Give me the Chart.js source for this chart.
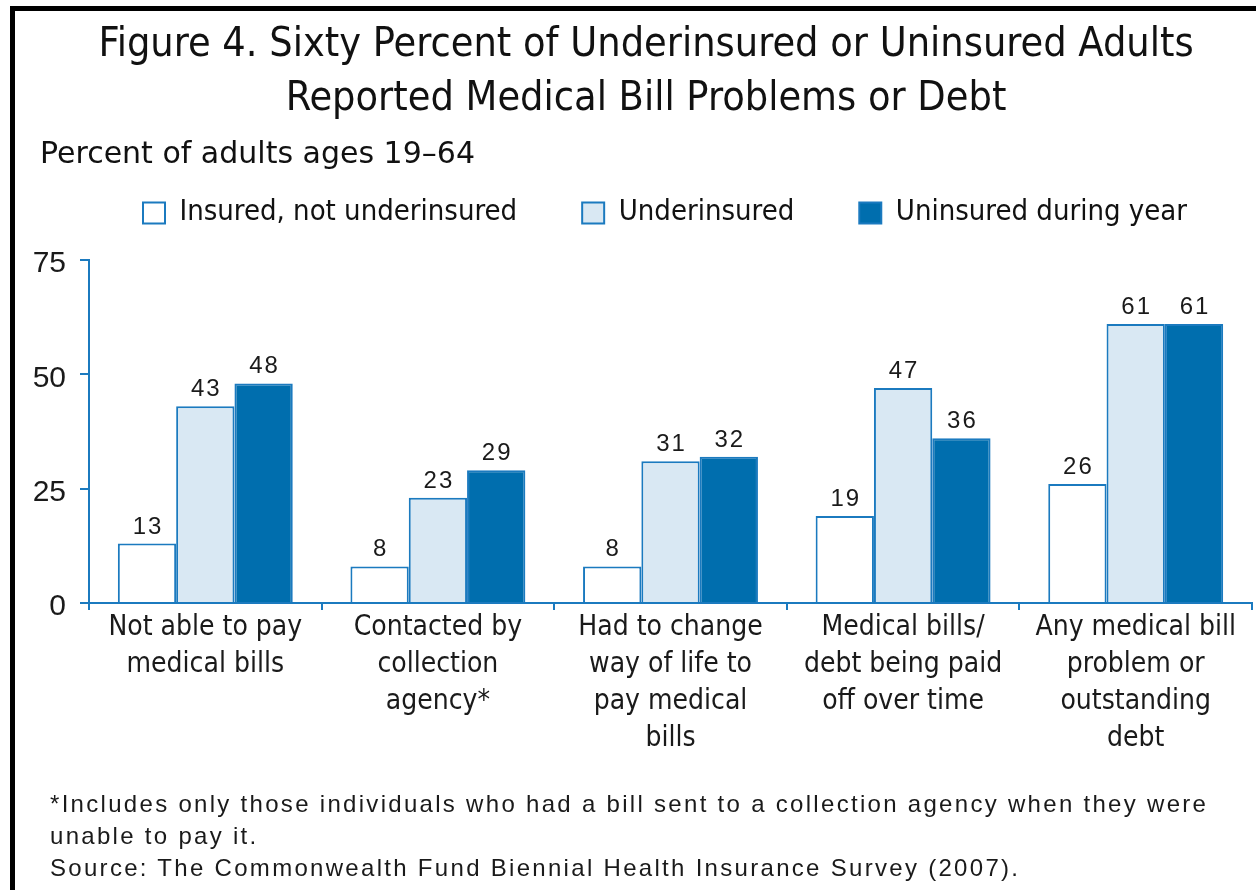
<!DOCTYPE html>
<html>
<head>
<meta charset="utf-8">
<title>Figure 4</title>
<script src="https://cdn.jsdelivr.net/npm/chart.js@4.4.1/dist/chart.umd.min.js"></script>
<style>
  html, body { margin: 0; padding: 0; background: #fff; }
  #wrap { position: relative; width: 1256px; height: 890px; overflow: hidden; }
  #frame { position: absolute; left: 10px; top: 6px; width: 1300px; height: 1000px;
           border-left: 5px solid #000; border-top: 5px solid #000; }
  #chart { position: absolute; left: 0; top: 0; }
  #notes { position: absolute; left: 50px; top: 788px; color: #1a1a1a;
           font: 24px 'Liberation Sans', Arial, sans-serif; letter-spacing: 2.3px;
           line-height: 32px; white-space: nowrap; }
</style>
</head>
<body>
<div id="wrap">
  <div id="frame"></div>
  <canvas id="chart" width="1256" height="890"></canvas>
  <div id="notes">
    <div>*Includes only those individuals who had a bill sent to a collection agency when they were</div>
    <div>unable to pay it.</div>
    <div>Source: The Commonwealth Fund Biennial Health Insurance Survey (2007).</div>
  </div>
</div>
<script>
  // ---- data ----
  var categories = [
    ['Not able to pay', 'medical bills'],
    ['Contacted by', 'collection', 'agency*'],
    ['Had to change', 'way of life to', 'pay medical', 'bills'],
    ['Medical bills/', 'debt being paid', 'off over time'],
    ['Any medical bill', 'problem or', 'outstanding', 'debt']
  ];
  var seriesNames = ['Insured, not underinsured', 'Underinsured', 'Uninsured during year'];
  var insured = [13, 8, 8, 19, 26];
  var underinsured = [43, 23, 31, 47, 61];
  var uninsured = [48, 29, 32, 36, 61];
  var yTicks = [0, 25, 50, 75];

  // ---- styles ----
  var NARROW = "'DejaVu Sans Condensed', 'Liberation Sans Narrow', sans-serif";
  var WIDE = "'DejaVu Sans', 'Liberation Sans', sans-serif";
  var PLAIN = "'Liberation Sans', Arial, sans-serif";
  var BLUE = '#1b7abf';
  var DARK = '#006eae';
  var LIGHT = '#d9e8f3';
  var INK = '#1a1a1a';

  // numbers over each bar
  var valueLabels = {
    id: 'valueLabels',
    afterDatasetsDraw: function (chart) {
      var ctx = chart.ctx;
      ctx.save();
      ctx.font = '24px ' + PLAIN;
      ctx.letterSpacing = '2px';
      ctx.fillStyle = INK;
      ctx.textAlign = 'center';
      ctx.textBaseline = 'alphabetic';
      chart.data.datasets.forEach(function (ds, i) {
        chart.getDatasetMeta(i).data.forEach(function (bar, j) {
          ctx.fillText(String(ds.data[j]), bar.x + 1, bar.y - 10);
        });
      });
      ctx.restore();
    }
  };

  // y tick labels hang left of the padded area, so widen the axis clip box after layout
  var looseYLabels = {
    id: 'looseYLabels',
    afterLayout: function (chart) { chart.scales.y.left = 0; }
  };

  function barSet(label, data, fill) {
    return {
      label: label,
      data: data,
      backgroundColor: fill,
      borderColor: BLUE,
      borderWidth: 2,
      categoryPercentage: 0.752,
      barPercentage: 1.0
    };
  }

  new Chart(document.getElementById('chart').getContext('2d'), {
    type: 'bar',
    data: {
      labels: categories,
      datasets: [
        barSet(seriesNames[0], insured, '#ffffff'),
        barSet(seriesNames[1], underinsured, LIGHT),
        barSet(seriesNames[2], uninsured, DARK)
      ]
    },
    plugins: [valueLabels, looseYLabels],
    options: {
      responsive: false,
      animation: false,
      devicePixelRatio: 1,
      layout: { padding: { left: 40, right: 4, top: 0, bottom: 122 } },
      scales: {
        x: {
          grid: { display: true, drawOnChartArea: false, drawTicks: true, tickLength: 7, color: BLUE, lineWidth: 2, offset: true },
          border: { display: true, color: BLUE, width: 2 },
          ticks: { color: INK, padding: -0.5, maxRotation: 0, autoSkip: false,
                   font: { family: NARROW, size: 28, lineHeight: 1.32 } },
          afterFit: function (scale) { scale.height = 165; }
        },
        y: {
          min: 0, max: 75,
          afterBuildTicks: function (scale) { scale.ticks = yTicks.map(function (v) { return { value: v }; }); },
          grid: { display: true, drawOnChartArea: false, drawTicks: true, tickLength: 9, color: BLUE, lineWidth: 2 },
          border: { display: true, color: BLUE, width: 2 },
          ticks: { color: INK, padding: 14, labelOffset: 4, font: { family: PLAIN, size: 30 } },
          afterFit: function (scale) { scale.width = 49; }
        }
      },
      plugins: {
        title: {
          display: true,
          text: ['Figure 4. Sixty Percent of Underinsured or Uninsured Adults', 'Reported Medical Bill Problems or Debt'],
          color: '#111',
          font: { family: NARROW, size: 41, weight: 'normal', lineHeight: 1.33 },
          padding: { top: 18, bottom: 6.4 }
        },
        // legend follows the title; its label padding is also the gap between items
        legend: {
          display: true,
          position: 'top',
          align: 'end',
          weight: 1000,
          labels: {
            color: '#111', padding: 65, boxWidth: 22, boxHeight: 21,
            font: { family: NARROW, size: 29 }
          }
        },
        // subtitle box comes after the legend but is drawn back up under the title
        subtitle: {
          display: true,
          text: 'Percent of adults ages 19\u201364',
          align: 'start',
          weight: 900,
          color: '#111',
          font: { family: WIDE, size: 30, weight: 'normal', lineHeight: 1.2 },
          padding: { top: -100, bottom: 86.5 }
        },
        tooltip: { enabled: false }
      }
    }
  });
</script>
</body>
</html>
